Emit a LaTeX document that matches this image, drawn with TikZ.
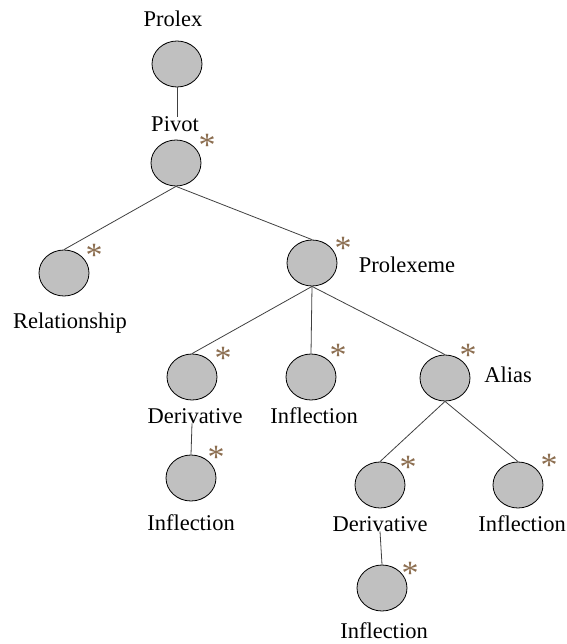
\documentclass[tikz,border=0pt]{standalone}
\usepackage{fontspec}
\setmainfont{Liberation Serif}
\usetikzlibrary{shapes.geometric}
\definecolor{nodegray}{RGB}{192,192,192}
\definecolor{starbrown}{RGB}{140,110,80}

\begin{document}
\begin{tikzpicture}[x=1pt,y=-1pt]
    \tikzstyle{every node}+=[inner sep=0pt]
    \tikzstyle{entity}=[ellipse, draw=black, line width=0.8pt, fill=nodegray, minimum width=50pt, minimum height=46pt]
    \tikzstyle{lbl}=[anchor=base, font=\fontsize{22.5}{27}\selectfont]
    \tikzstyle{asterisk}=[text=starbrown, yshift=-5pt, font=\fontsize{34}{36}\selectfont]
    \tikzstyle{link}=[draw=black!75, line width=0.8pt]
    \useasboundingbox (0,0) rectangle (566,644);
    % entities
    \node[entity] (prolex) at (177,64) {};
    \node[lbl] (prolextxt) at (173,27) {Prolex};
    \node[entity] (pivot) at (176,163) {};
    \node[lbl] (pivottxt) at (175,132) {Pivot};
    \node[entity] (rel) at (64,273) {};
    \node[lbl] (reltxt) at (70,328) {Relationship};
    \node[entity] (plx) at (312,263) {};
    \node[lbl] (plxtxt) at (407,272) {Prolexeme};
    \node[entity] (der) at (192,377) {};
    \node[lbl] (dertxt) at (195,423) {Derivative};
    \node[entity] (infa) at (311,377) {};
    \node[lbl] (infatxt) at (314,423) {Inflection};
    \node[entity] (alias) at (445,378) {};
    \node[lbl] (aliastxt) at (508,382) {Alias};
    \node[entity] (infb) at (191,478) {};
    \node[lbl] (infbtxt) at (191,530) {Inflection};
    \node[entity] (derb) at (380,485) {};
    \node[lbl] (derbtxt) at (380,531) {Derivative};
    \node[entity] (infc) at (518,485) {};
    \node[lbl] (infctxt) at (522,531) {Inflection};
    \node[entity] (infd) at (382,588) {};
    \node[lbl] (infdtxt) at (384,638) {Inflection};
    % asterisks
    \foreach \n/\dx/\dy in {pivot/31/-23, rel/30/-23, plx/31/-20, der/31/-24, infa/27/-27,
                            alias/23/-28, infb/25/-26, derb/28/-23, infc/31/-25, infd/28/-20}
        \node[asterisk] (\n star) at ([shift={(\dx,\dy)}]\n.center) {*};
    % links
    \draw[link] (prolex.south) -- (prolex.south |- pivottxt.north);
    \draw[link] (pivot.south) -- (rel.north);
    \draw[link] (pivot.south) -- (plx.north);
    \draw[link] (plx.south) -- (der.north);
    \draw[link] (plx.south) -- (infa.north);
    \draw[link] (plx.south) -- (alias.north);
    \draw[link] (der.south |- dertxt.south) -- (infb.north);
    \draw[link] (alias.south) -- (derb.north);
    \draw[link] (alias.south) -- (infc.north);
    \draw[link] (derb.south |- derbtxt.south) -- (infd.north);
\end{tikzpicture}
\end{document}
